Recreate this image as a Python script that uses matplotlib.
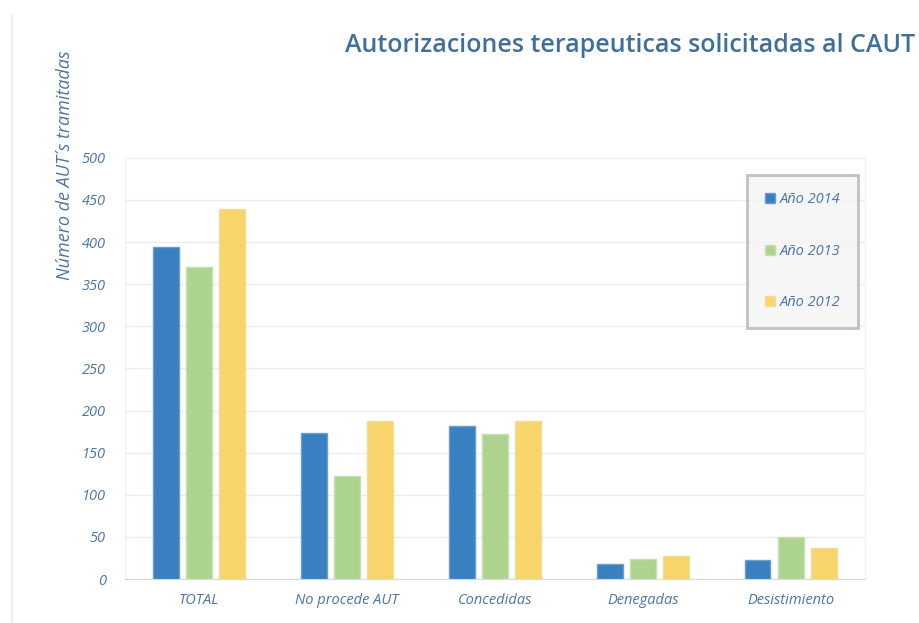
import matplotlib
matplotlib.use("Agg")
import matplotlib.pyplot as plt
import numpy as np

categories = ["TOTAL", "No procede AUT", "Concedidas", "Denegadas", "Desistimiento"]
series_names = ["Año 2014", "Año 2013", "Año 2012"]
y2014 = [394, 173, 182, 18, 22]
y2013 = [371, 122, 172, 24, 50]
y2012 = [439, 188, 188, 27, 37]
yticks = [0, 50, 100, 150, 200, 250, 300, 350, 400, 450, 500]

colors = ["#3a7fc0", "#add48e", "#f7d56a"]
edges = ["#6a9fd0", "#c8e0b0", "#f0dc98"]
txt = "#4a76a8"

plt.rcParams['font.family'] = ['Open Sans', 'DejaVu Sans']

fig = plt.figure(figsize=(9.2, 6.23), dpi=100)
ax = fig.add_axes([0.136, 0.0706, 0.804, 0.676])

x = np.arange(len(categories))
w = 0.175
step = 0.225
for i, (vals, name) in enumerate(zip([y2014, y2013, y2012], series_names)):
    ax.bar(x + (i - 1) * step, vals, width=w, color=colors[i], edgecolor=edges[i],
           linewidth=1.0, label=name, zorder=3)

ax.set_xlim(-0.5, len(categories) - 0.5)
ax.set_ylim(0, 500)
ax.set_yticks(yticks)
ax.set_yticklabels([str(t) for t in yticks], fontsize=10.5, style='italic', color=txt)
ax.set_xticks(x)
ax.set_xticklabels(categories, fontsize=10.5, style='italic', color=txt)
ax.tick_params(axis='y', length=0, pad=14)
ax.tick_params(axis='x', length=0, pad=10)
ax.grid(axis='y', color='#ececec', linewidth=1.0, zorder=0)
for s in ['top', 'right', 'left']:
    ax.spines[s].set_color('#f0f0f0')
ax.spines['bottom'].set_color('#d8d8d8')

fig.text(65 / 920, 1 - 165 / 623, "Número de AUT´s tramitadas", rotation=90, ha='center', va='center',
         fontsize=13, style='italic', color=txt)

fig.text(0.995, 1 - 45 / 623, "Autorizaciones terapeuticas solicitadas al CAUT", ha='right', va='center',
         fontsize=18, weight='semibold', color="#3f6f9c")

leg = ax.legend(loc='upper right', bbox_to_anchor=(1.0, 0.977), frameon=True, fancybox=False,
                handlelength=0.7, handleheight=0.7, handletextpad=0.3, labelspacing=2.5,
                borderpad=1.2, fontsize=10.5)
leg.get_frame().set_facecolor('#f4f4f4')
leg.get_frame().set_edgecolor('#b8b0b0')
leg.get_frame().set_linewidth(2)
for t in leg.get_texts():
    t.set_color(txt)
    t.set_style('italic')

fig.add_artist(plt.Line2D([0.013, 0.013], [0.0, 0.975], color='#eeeeee', linewidth=1.5))

fig.savefig("out.png", dpi=100)
